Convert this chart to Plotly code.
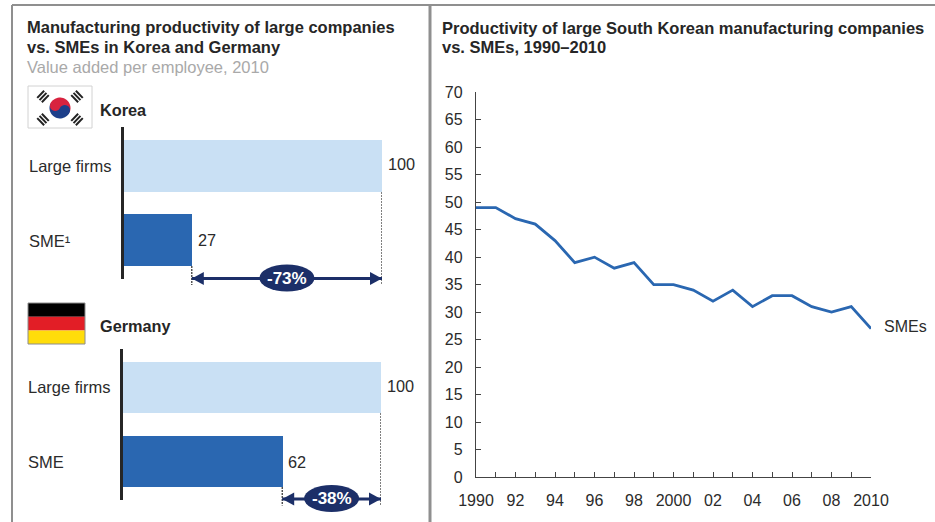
import math
import plotly.graph_objects as go

W, H = 935, 522
categories_korea = ["Large firms", "SME\u00b9"]
categories_germany = ["Large firms", "SME"]
korea_values = [100, 27]
germany_values = [100, 62]
korea_gap = "-73%"
germany_gap = "-38%"
years = list(range(1990, 2011))
sme_productivity = [49, 49, 47, 46, 43, 39, 40, 38, 39, 35, 35, 34, 32, 34, 31, 33, 33, 31, 30, 31, 27]
year_labels = ["1990", " ", "92", " ", "94", " ", "96", " ", "98", " ", "2000", " ", "02", " ", "04", " ", "06", " ", "08", " ", "2010"]
y_ticks = list(range(0, 75, 5))

FONT = "Liberation Sans, Arial, sans-serif"
TXT = "#2b2b2b"
LIGHT, DARK, NAVY = "#c9e0f4", "#2a67b1", "#1c2f68"
BORDER = "#8f8f8f"


def px(x):
    return x / W


def py(y):
    return 1 - y / H


fig = go.Figure()
bar_colors = [LIGHT, DARK]
fig.add_trace(go.Bar(y=categories_korea, x=korea_values, orientation="h", width=0.7,
                     marker=dict(color=bar_colors, line=dict(width=0)), xaxis="x", yaxis="y", showlegend=False))
fig.add_trace(go.Bar(y=categories_germany, x=germany_values, orientation="h", width=0.7,
                     marker=dict(color=bar_colors, line=dict(width=0)), xaxis="x2", yaxis="y2", showlegend=False))
fig.add_trace(go.Scatter(x=years, y=sme_productivity, mode="lines", line=dict(color=DARK, width=2.8),
                         xaxis="x3", yaxis="y3", showlegend=False, cliponaxis=False))

shapes, ann = [], []


def text(x, y, s, size=16.5, color=TXT, bold=False, anchor="left"):
    ann.append(dict(xref="paper", yref="paper", x=px(x), y=py(y), text=f"<b>{s}</b>" if bold else s, showarrow=False,
                    xanchor=anchor, yanchor="middle", borderpad=0, font=dict(family=FONT, size=size, color=color)))


def prect(x0, y0, x1, y1, fill, line=None, lw=0):
    shapes.append(dict(type="rect", xref="paper", yref="paper", x0=px(x0), x1=px(x1), y0=py(y0), y1=py(y1),
                       fillcolor=fill, line=dict(color=line or fill, width=lw)))


def pline(x0, y0, x1, y1, color, lw):
    shapes.append(dict(type="line", xref="paper", yref="paper", x0=px(x0), x1=px(x1), y0=py(y0), y1=py(y1),
                       line=dict(color=color, width=lw)))


# panel borders
pline(12, 5, 935, 5, BORDER, 2)
pline(12, 5, 12, 522, BORDER, 2)
pline(430, 5, 430, 522, BORDER, 3)

# headings
text(26, 27, "Manufacturing productivity of large companies", 16.5, "#262626", True)
text(26, 47, "vs. SMEs in Korea and Germany", 16.5, "#262626", True)
text(26, 67, "Value added per employee, 2010", 16.5, "#a9a9a9")
text(441, 27.5, "Productivity of large South Korean manufacturing companies", 16.5, "#262626", True)
text(441, 47.5, "vs. SMEs, 1990\u20132010", 16.5, "#262626", True)
text(99, 109.5, "Korea", 16.3, "#262626", True)
text(99, 326, "Germany", 16.3, "#262626", True)

# Korean flag
prect(28, 86, 92, 128, "#ffffff", "#d2d2d2", 1)
cx, cy, r = 60, 108, 10.5


def arc(cx_, cy_, r_, a0, a1, n=24):
    pts = []
    for i in range(n + 1):
        a = math.radians(a0 + (a1 - a0) * i / n)
        pts.append((cx_ + r_ * math.cos(a), cy_ + r_ * math.sin(a)))
    return pts


def poly(pts, fill):
    d = "M " + " L ".join(f"{px(a):.5f},{py(b):.5f}" for a, b in pts) + " Z"
    shapes.append(dict(type="path", xref="paper", yref="paper", path=d, fillcolor=fill, line=dict(width=0)))


tilt = 25
poly(arc(cx, cy, r, 180 + tilt, 360 + tilt), "#d8233f")
poly(arc(cx, cy, r, tilt, 180 + tilt), "#1d3f8a")
ux, uy = math.cos(math.radians(tilt)), math.sin(math.radians(tilt))
poly(arc(cx - ux * r / 2, cy - uy * r / 2, r / 2, 0, 360), "#d8233f")
poly(arc(cx + ux * r / 2, cy + uy * r / 2, r / 2, 0, 360), "#1d3f8a")
for sx, sy in [(-1, -1), (1, -1), (-1, 1), (1, 1)]:
    mx, my = cx + sx * 17, cy + sy * 11.5
    dx, dy = sx * 0.72, sy * 0.69
    for k in (-3.2, 0, 3.2):
        bx, by = mx + dx * k, my + dy * k
        pline(bx + dy * 5, by - dx * 5, bx - dy * 5, by + dx * 5, "#222222", 2)

# German flag
prect(28, 303, 85, 316.7, "#000000")
prect(28, 316.7, 85, 330.4, "#e21e26")
prect(28, 330.4, 85, 344, "#ffdd0a")
shapes.append(dict(type="rect", xref="paper", yref="paper", x0=px(28), x1=px(85), y0=py(303), y1=py(344),
                   fillcolor="rgba(0,0,0,0)", line=dict(color="#8c8c8c", width=1)))


def bar_panel(cats, vals, xa, ya, arrow_y, pill_y, pill_text, dash_top, label_x=28):
    for c, v in zip(cats, vals):
        ann.append(dict(xref=xa, yref=ya, x=v, y=c, text=str(v), showarrow=False, xanchor="left", xshift=4,
                        yshift=1.5 if v == max(vals) else 0, font=dict(family=FONT, size=16.3, color=TXT)))
    text(label_x, dash_top[0], cats[0], 16.5)
    text(label_x, dash_top[1], cats[1], 16.5)
    lo, hi = min(vals), max(vals)
    yb = py(arrow_y)
    for v, top in ((lo, dash_top[3]), (hi, dash_top[2])):
        shapes.append(dict(type="line", xref=xa, yref="paper", x0=v, x1=v, y0=py(top), y1=py(arrow_y + 6.5),
                           line=dict(color="#000000", width=1, dash="2px,1px")))
    shapes.append(dict(type="line", xref=xa, yref="paper", x0=lo, x1=hi, y0=yb, y1=yb,
                       line=dict(color=NAVY, width=3)))
    for v, s in ((lo, 1), (hi, -1)):
        shapes.append(dict(type="path", xref=xa, yref="paper", xsizemode="pixel", ysizemode="pixel",
                           xanchor=v, yanchor=yb, path=f"M 0,0 L {s*12},6.5 L {s*12},-6.5 Z",
                           fillcolor=NAVY, line=dict(width=0)))
    mid = (lo + hi) / 2
    shapes.append(dict(type="circle", xref=xa, yref="paper", xsizemode="pixel", ysizemode="pixel", xanchor=mid,
                       yanchor=py(pill_y), x0=-27.5, x1=27.5, y0=-13.5, y1=13.5, fillcolor=NAVY, line=dict(width=0)))
    ann.append(dict(xref=xa, yref="paper", x=mid, y=py(pill_y), text=f"<b>{pill_text}</b>", showarrow=False,
                    xanchor="center", yanchor="middle", font=dict(family=FONT, size=17, color="#ffffff")))


bar_panel(categories_korea, korea_values, "x", "y", 278.5, 278, korea_gap, (166, 240.5, 192, 266))
bar_panel(categories_germany, germany_values, "x2", "y2", 499, 498.5, germany_gap, (387, 461.5, 413, 487), 27)

ann.append(dict(xref="x3", yref="y3", x=years[-1], y=sme_productivity[-1], text="SMEs", showarrow=False,
                xanchor="left", yanchor="middle", xshift=11, yshift=2, font=dict(family=FONT, size=16, color=TXT)))

bar_x = dict(showgrid=False, zeroline=False, showticklabels=False, ticks="", showline=False, automargin=False)
bar_y = dict(type="category", range=[1.52, -0.52], showgrid=False, zeroline=False, showticklabels=False, ticks="",
             showline=True, linecolor="#262626", linewidth=3, automargin=False)

fig.update_layout(
    template="none",
    width=W, height=H, margin=dict(l=0, r=0, t=0, b=0, pad=0), paper_bgcolor="#ffffff", plot_bgcolor="#ffffff",
    autosize=False, bargap=0, shapes=shapes, annotations=ann, font=dict(family=FONT, size=15, color=TXT),
    xaxis=dict(bar_x, range=[0.77, 100], domain=[px(123.5), px(382)], anchor="y"),
    yaxis=dict(bar_y, domain=[py(279), py(127)], anchor="x"),
    xaxis2=dict(bar_x, range=[0.58, 100], domain=[px(122.5), px(381)], anchor="y2"),
    yaxis2=dict(bar_y, domain=[py(500), py(349)], anchor="x2"),
    xaxis3=dict(range=[1990, 2010], domain=[px(476), px(871)], anchor="y3", tickmode="array", tickvals=years,
                ticktext=year_labels, ticks="inside", ticklen=5, tickcolor="#444444", tickwidth=1, showgrid=False,
                zeroline=False, showline=True, linecolor="#444444", linewidth=1.3, ticklabelstandoff=8, automargin=False,
                tickangle=0, tickfont=dict(family=FONT, size=16, color=TXT)),
    yaxis3=dict(range=[0, 70], domain=[py(477.3), py(92)], anchor="x3", tickmode="array", tickvals=y_ticks,
                ticks="inside", ticklen=5, tickcolor="#444444", tickwidth=1, showgrid=False, zeroline=False,
                showline=True, linecolor="#444444", linewidth=1.3, ticklabelstandoff=9, automargin=False,
                tickfont=dict(family=FONT, size=16, color=TXT)),
)
fig.write_html("out.html", config=dict(displayModeBar=False),
               post_script="document.documentElement.style.margin='0';document.body.style.margin='0';")
